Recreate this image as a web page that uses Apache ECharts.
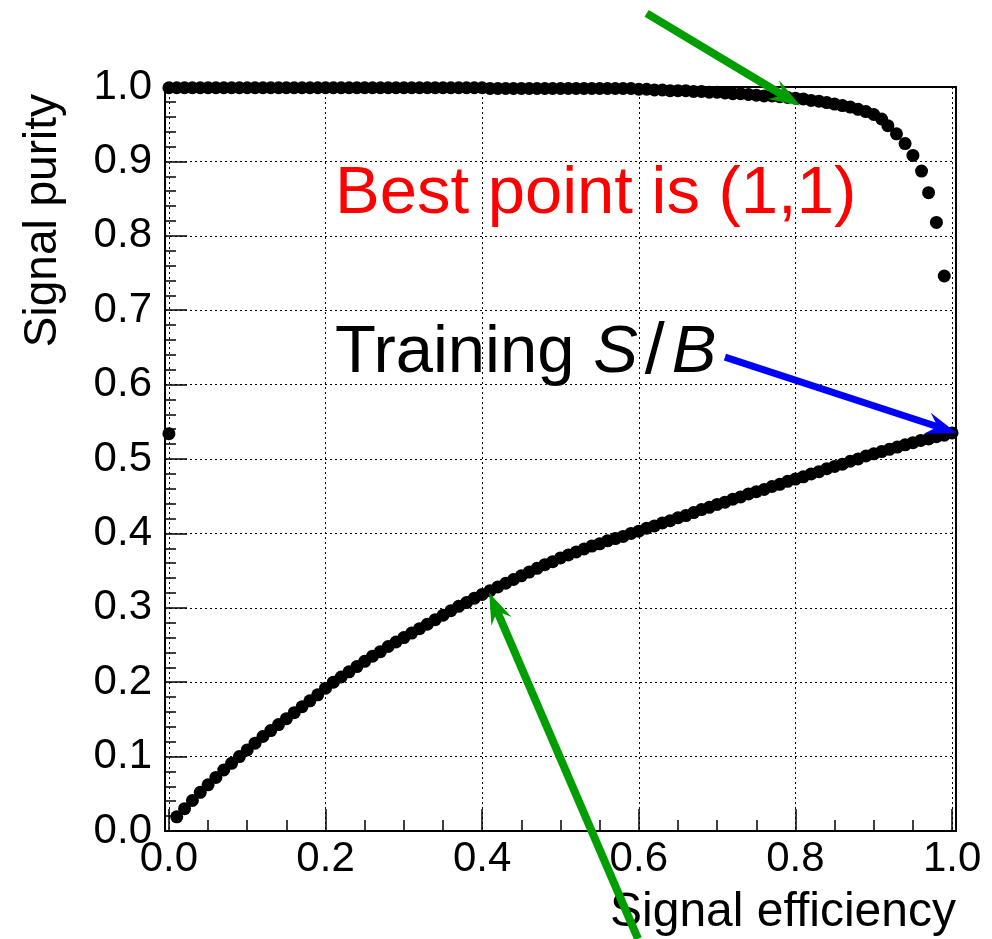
<!DOCTYPE html>
<html>
<head>
<meta charset="utf-8">
<script src="https://cdn.jsdelivr.net/npm/echarts@6/dist/echarts.min.js"></script>
<style>
  html, body { margin: 0; padding: 0; background: #fff; }
  #chart { width: 992px; height: 939px; }
</style>
</head>
<body>
<div id="chart"></div>
<script>
// signal purity vs signal efficiency (lower curve)
const lowerEff = [
  0.01, 0.02, 0.03, 0.04, 0.05, 0.06, 0.07, 0.08, 0.09, 0.10,
  0.11, 0.12, 0.13, 0.14, 0.15, 0.16, 0.17, 0.18, 0.19, 0.20,
  0.21, 0.22, 0.23, 0.24, 0.25, 0.26, 0.27, 0.28, 0.29, 0.30,
  0.31, 0.32, 0.33, 0.34, 0.35, 0.36, 0.37, 0.38, 0.39, 0.40,
  0.41, 0.42, 0.43, 0.44, 0.45, 0.46, 0.47, 0.48, 0.49, 0.50,
  0.51, 0.52, 0.53, 0.54, 0.55, 0.56, 0.57, 0.58, 0.59, 0.60,
  0.61, 0.62, 0.63, 0.64, 0.65, 0.66, 0.67, 0.68, 0.69, 0.70,
  0.71, 0.72, 0.73, 0.74, 0.75, 0.76, 0.77, 0.78, 0.79, 0.80,
  0.81, 0.82, 0.83, 0.84, 0.85, 0.86, 0.87, 0.88, 0.89, 0.90,
  0.91, 0.92, 0.93, 0.94, 0.95, 0.96, 0.97, 0.98, 0.99, 1.00
]
const lowerPurity = [
  0.019, 0.030, 0.041, 0.052, 0.062, 0.072, 0.082, 0.091, 0.100, 0.109,
  0.118, 0.127, 0.135, 0.143, 0.151, 0.159, 0.167, 0.175, 0.183, 0.192,
  0.200, 0.207, 0.214, 0.221, 0.228, 0.235, 0.241, 0.248, 0.254, 0.260,
  0.266, 0.272, 0.278, 0.284, 0.290, 0.296, 0.302, 0.307, 0.313, 0.318,
  0.323, 0.328, 0.333, 0.338, 0.343, 0.348, 0.353, 0.358, 0.362, 0.367,
  0.371, 0.375, 0.379, 0.383, 0.386, 0.390, 0.393, 0.396, 0.400, 0.403,
  0.407, 0.410, 0.414, 0.417, 0.421, 0.424, 0.428, 0.432, 0.435, 0.439,
  0.442, 0.446, 0.449, 0.453, 0.456, 0.459, 0.463, 0.466, 0.470, 0.473,
  0.476, 0.480, 0.483, 0.487, 0.490, 0.493, 0.497, 0.500, 0.504, 0.507,
  0.510, 0.513, 0.516, 0.519, 0.522, 0.525, 0.527, 0.530, 0.532, 0.535
]

// upper curve
const upperEff = [
  0.00, 0.01, 0.02, 0.03, 0.04, 0.05, 0.06, 0.07, 0.08, 0.09,
  0.10, 0.11, 0.12, 0.13, 0.14, 0.15, 0.16, 0.17, 0.18, 0.19,
  0.20, 0.21, 0.22, 0.23, 0.24, 0.25, 0.26, 0.27, 0.28, 0.29,
  0.30, 0.31, 0.32, 0.33, 0.34, 0.35, 0.36, 0.37, 0.38, 0.39,
  0.40, 0.41, 0.42, 0.43, 0.44, 0.45, 0.46, 0.47, 0.48, 0.49,
  0.50, 0.51, 0.52, 0.53, 0.54, 0.55, 0.56, 0.57, 0.58, 0.59,
  0.60, 0.61, 0.62, 0.63, 0.64, 0.65, 0.66, 0.67, 0.68, 0.69,
  0.70, 0.71, 0.72, 0.73, 0.74, 0.75, 0.76, 0.77, 0.78, 0.79,
  0.80, 0.81, 0.82, 0.83, 0.84, 0.85, 0.86, 0.87, 0.88, 0.89,
  0.90, 0.91, 0.918, 0.929, 0.940, 0.950, 0.961, 0.970, 0.980, 0.990
]
const upperPurity = [
  0.999, 0.999, 0.999, 0.999, 0.999, 0.999, 0.999, 0.999, 0.999, 0.999,
  0.999, 0.999, 0.999, 0.999, 0.999, 0.999, 0.999, 0.999, 0.999, 0.999,
  0.999, 0.999, 0.999, 0.999, 0.999, 0.999, 0.999, 0.999, 0.999, 0.999,
  0.999, 0.999, 0.999, 0.999, 0.999, 0.999, 0.999, 0.999, 0.999, 0.999,
  0.999, 0.998, 0.998, 0.998, 0.998, 0.998, 0.998, 0.998, 0.998, 0.998,
  0.998, 0.998, 0.998, 0.998, 0.998, 0.998, 0.998, 0.998, 0.998, 0.998,
  0.997, 0.997, 0.996, 0.996, 0.995, 0.995, 0.995, 0.994, 0.994, 0.993,
  0.993, 0.992, 0.991, 0.991, 0.990, 0.989, 0.988, 0.988, 0.987, 0.986,
  0.985, 0.984, 0.982, 0.981, 0.979, 0.977, 0.975, 0.973, 0.970, 0.967,
  0.963, 0.957, 0.948, 0.937, 0.924, 0.908, 0.887, 0.858, 0.818, 0.746
]

// single point on the y axis
const startEff = [0.0]
const startPurity = [0.534]

const yTickValues = [0.0, 0.1, 0.2, 0.3, 0.4, 0.5, 0.6, 0.7, 0.8, 0.9, 1.0]

const FONT = '"Liberation Sans", Arial, Helvetica, sans-serif'
const zip = (xs, ys) => xs.map((x, i) => [x, ys[i]])

const chart = echarts.init(document.getElementById('chart'))

const hiddenAxisParts = {
  axisTick: { show: false },
  axisLabel: { show: false },
  splitLine: { show: false }
}

const dotSeries = (name, data) => ({
  type: 'scatter',
  name,
  clip: false,
  symbol: 'circle',
  symbolSize: 13,
  itemStyle: { color: '#000', opacity: 1 },
  data
})

const option = {
  animation: false,
  backgroundColor: '#fff',
  grid: { left: 165, right: 36, top: 87, bottom: 108 },
  xAxis: [
    {
      type: 'value',
      min: -0.005,
      max: 1.005,
      axisLine: { onZero: false, lineStyle: { color: '#000', width: 2 } },
      axisTick: { inside: true, length: 22, lineStyle: { color: '#000', width: 1.5 } },
      minorTick: { show: true, splitNumber: 4, length: 11, lineStyle: { color: '#000', width: 1.5 } },
      axisLabel: {
        showMinLabel: false,
        showMaxLabel: false,
        margin: 7,
        color: '#000',
        fontSize: 42,
        fontFamily: FONT,
        formatter: v => Math.abs(v).toFixed(1)
      },
      splitLine: { show: true, lineStyle: { color: '#000', width: 1, type: [2, 3] } }
    },
    {
      type: 'value',
      position: 'top',
      min: -0.005,
      max: 1.005,
      axisLine: { onZero: false, lineStyle: { color: '#000', width: 2 } },
      ...hiddenAxisParts
    }
  ],
  yAxis: [
    {
      type: 'value',
      min: yTickValues[0],
      max: yTickValues[yTickValues.length - 1],
      interval: 0.1,
      axisLine: { onZero: false, lineStyle: { color: '#000', width: 2 } },
      axisTick: { inside: true, length: 22, lineStyle: { color: '#000', width: 1.5 } },
      minorTick: { show: true, splitNumber: 5, length: 11, lineStyle: { color: '#000', width: 1.5 } },
      axisLabel: {
        margin: 13,
        color: '#000',
        fontSize: 42,
        fontFamily: FONT,
        formatter: v => v.toFixed(1)
      },
      splitLine: { show: true, lineStyle: { color: '#000', width: 1, type: [2, 3] } }
    },
    {
      type: 'value',
      position: 'right',
      min: 0,
      max: 1,
      axisLine: { show: true, onZero: false, lineStyle: { color: '#000', width: 2 } },
      ...hiddenAxisParts
    }
  ],
  series: [
    dotSeries('lower', zip(lowerEff, lowerPurity)),
    dotSeries('upper', zip(upperEff, upperPurity)),
    dotSeries('start', zip(startEff, startPurity))
  ]
}

chart.setOption(option)

// annotations, given in data coordinates
const arrows = [
  { from: [0.610, 1.099], to: [0.806, 0.975], color: '#009e00', width: 8 },
  { from: [0.710, 0.637], to: [1.006, 0.535], color: '#0000ff', width: 7 },
  { from: [0.599, -0.145], to: [0.409, 0.320], color: '#009e00', width: 8 }
]

const toPx = p => chart.convertToPixel({ gridIndex: 0 }, p)

const arrowShapes = arrows.flatMap(a => {
  const [x0, y0] = toPx(a.from)
  const [x1, y1] = toPx(a.to)
  const len = Math.hypot(x1 - x0, y1 - y0)
  const ux = (x1 - x0) / len
  const uy = (y1 - y0) / len
  const nx = -uy
  const ny = ux
  const headLen = 31
  const headHalf = 11
  const notch = 20
  return [
    {
      type: 'line',
      shape: { x1: x0, y1: y0, x2: x1 - ux * notch, y2: y1 - uy * notch },
      style: { stroke: a.color, lineWidth: a.width },
      z: 10
    },
    {
      type: 'polygon',
      shape: {
        points: [
          [x1, y1],
          [x1 - ux * headLen + nx * headHalf, y1 - uy * headLen + ny * headHalf],
          [x1 - ux * notch, y1 - uy * notch],
          [x1 - ux * headLen - nx * headHalf, y1 - uy * headLen - ny * headHalf]
        ]
      },
      style: { fill: a.color },
      z: 10
    }
  ]
})

const bestPos = toPx([0.212, 0.856])
const trainPos = toPx([0.212, 0.642])

chart.setOption({
  graphic: [
    ...arrowShapes,
    {
      type: 'text',
      x: bestPos[0],
      y: bestPos[1],
      z: 10,
      style: {
        text: 'Best point is (1,1)',
        fill: '#ff0000',
        font: '67px ' + FONT,
        align: 'left',
        verticalAlign: 'middle',
        textAlign: 'left',
        textVerticalAlign: 'middle'
      }
    },
    {
      type: 'text',
      x: trainPos[0],
      y: trainPos[1],
      z: 10,
      style: {
        text: '{n|Training }{i|S}{s|/}{i|B}',
        fill: '#000',
        font: '67px ' + FONT,
        align: 'left',
        verticalAlign: 'middle',
        textAlign: 'left',
        textVerticalAlign: 'middle',
        rich: {
          n: { fontSize: 67, fontFamily: FONT, fill: '#000' },
          i: { fontSize: 67, fontFamily: FONT, fontStyle: 'italic', fill: '#000' },
          s: { fontSize: 72, fontFamily: FONT, fontWeight: 'lighter', fill: '#000', padding: [0, 7, 0, 7] }
        }
      }
    },
    {
      type: 'text',
      x: 956,
      y: 913,
      style: {
        text: 'Signal efficiency',
        fill: '#000',
        font: '48px ' + FONT,
        align: 'right',
        verticalAlign: 'middle',
        textAlign: 'right',
        textVerticalAlign: 'middle'
      }
    },
    {
      type: 'text',
      x: 43,
      y: 94,
      rotation: Math.PI / 2,
      style: {
        text: 'Signal purity',
        fill: '#000',
        font: '46px ' + FONT,
        align: 'right',
        verticalAlign: 'middle',
        textAlign: 'right',
        textVerticalAlign: 'middle'
      }
    }
  ]
})
</script>
</body>
</html>
